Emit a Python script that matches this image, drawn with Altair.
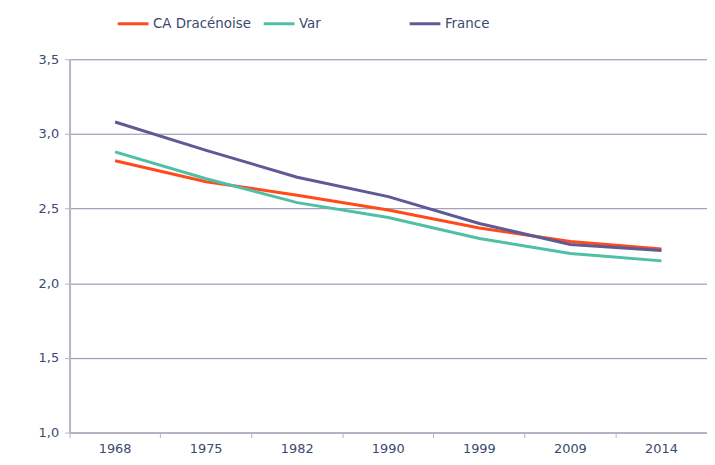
import altair as alt
import pandas as pd

years = ["1968", "1975", "1982", "1990", "1999", "2009", "2014"]
ca_dracenoise = [2.82, 2.68, 2.59, 2.49, 2.37, 2.28, 2.23]
var = [2.88, 2.70, 2.54, 2.44, 2.30, 2.20, 2.15]
france = [3.08, 2.89, 2.71, 2.58, 2.40, 2.26, 2.22]
series = ["CA Dracénoise", "Var", "France"]
colors = ["#FF4A1C", "#4FBFA6", "#5E5A95"]

rows = []
for name, vals in zip(series, [ca_dracenoise, var, france]):
    for y, v in zip(years, vals):
        rows.append({"year": y, "value": v, "serie": name})
df = pd.DataFrame(rows)

text_color = "#3B4A6E"
font = "DejaVu Sans"

chart = alt.Chart(df).mark_line(strokeWidth=3).encode(
    x=alt.X("year:O", sort=years, bandPosition=0.5,
            scale=alt.Scale(type="band", paddingInner=0, paddingOuter=0),
            axis=alt.Axis(title=None, labelAngle=0, bandPosition=0,
                          domainColor="#B4B4C4", domainWidth=2, tickColor="#B4B4C4",
                          tickSize=5, labelPadding=5, grid=False)),
    y=alt.Y("value:Q", scale=alt.Scale(domain=[1, 3.5], nice=False, zero=False),
            axis=alt.Axis(title=None, values=[1, 1.5, 2, 2.5, 3, 3.5],
                          labelExpr="replace(format(datum.value, '.1f'), '.', ',')",
                          grid=True, gridColor="#8C8CA8", gridWidth=1,
                          domainColor="#B4B4C4", domainWidth=2,
                          tickColor="#B4B4C4", tickSize=5, labelPadding=6)),
    color=alt.Color("serie:N", sort=series,
                    scale=alt.Scale(domain=series, range=colors),
                    legend=alt.Legend(title=None, orient="none", legendX=47, legendY=-53,
                                      direction="horizontal", columns=3, gridAlign="all",
                                      columnPadding=6, symbolType="stroke",
                                      symbolSize=961, symbolStrokeWidth=3,
                                      labelOffset=3)),
).properties(
    width=642, height=376,
    autosize=alt.AutoSizeParams(type="none"),
    padding={"left": 62, "top": 50, "right": 0, "bottom": 30},
).configure_view(stroke=None).configure_axis(
    labelFont=font, labelFontSize=13, labelColor=text_color
).configure_legend(
    labelFont=font, labelFontSize=13.5, labelColor=text_color
)

chart.save("out.html", embed_options={"renderer": "svg", "actions": False})
